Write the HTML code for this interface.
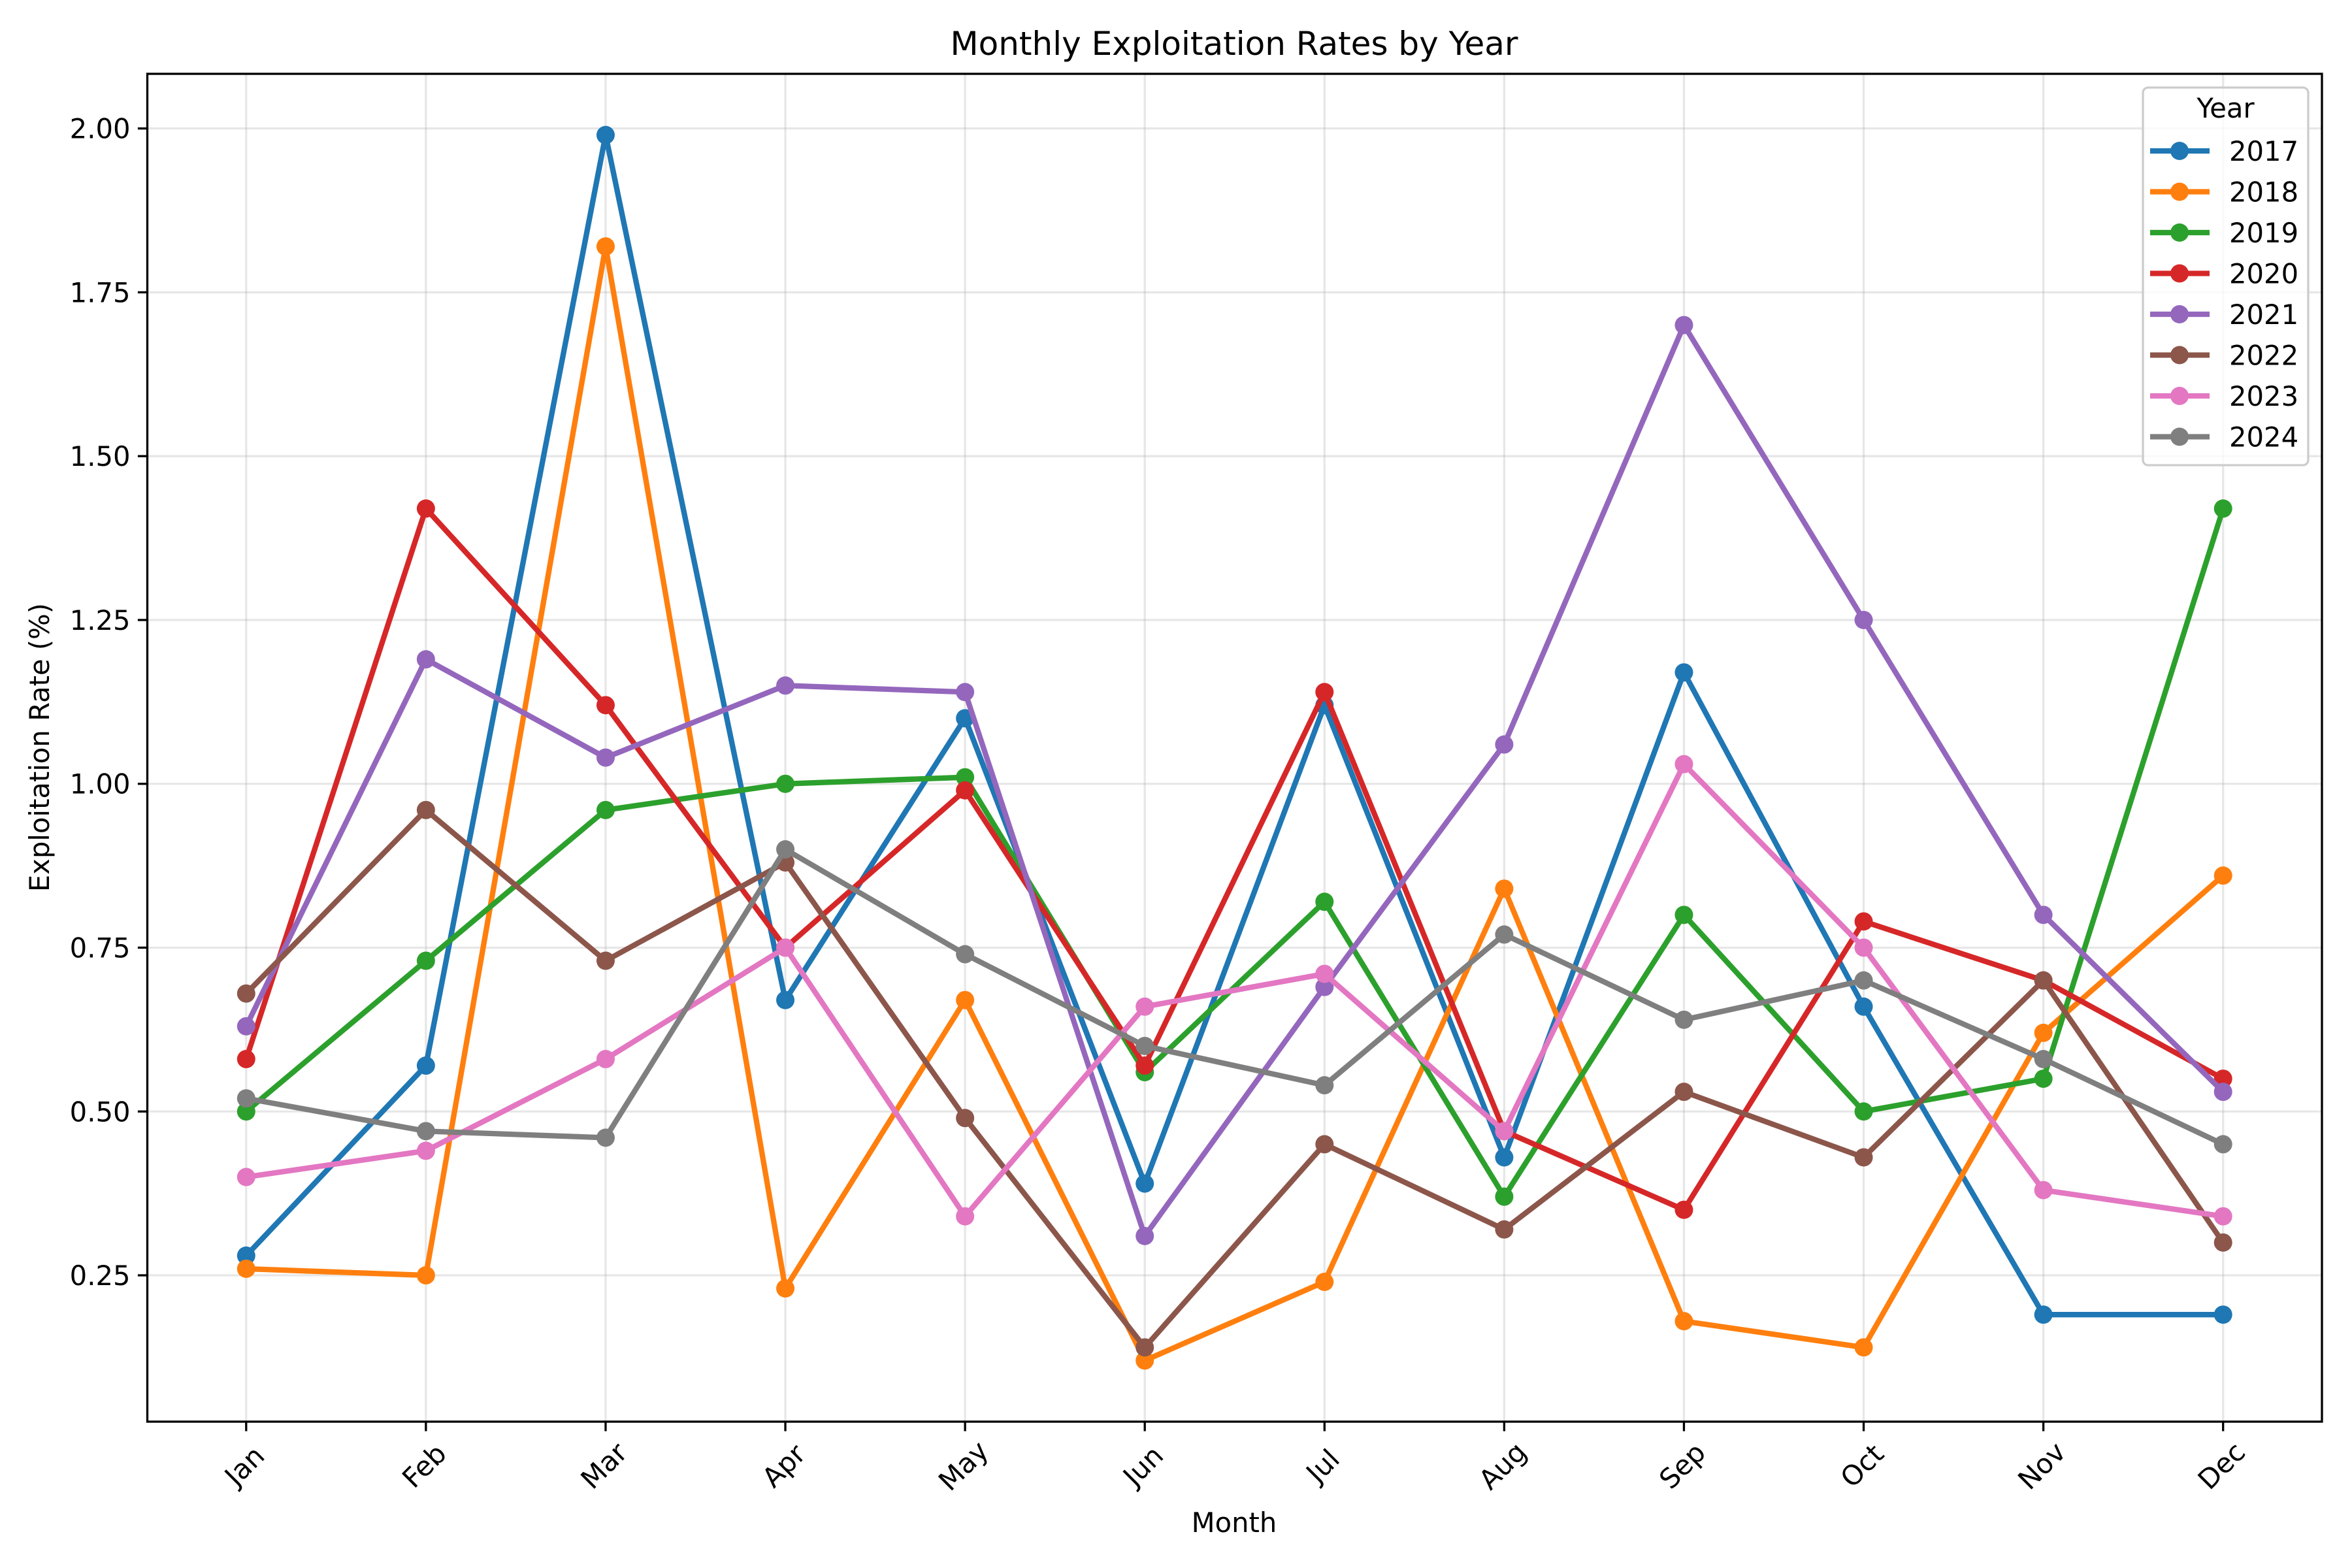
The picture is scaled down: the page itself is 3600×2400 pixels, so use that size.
<!DOCTYPE html>
<html><head><meta charset="utf-8"><style>
html,body{margin:0;padding:0;background:#fff;}
svg{display:block;font-family:"DejaVu Sans","Liberation Sans",sans-serif;}
</style></head><body>
<svg id="chart" width="3600" height="2400" viewBox="0 0 3600 2400" xmlns="http://www.w3.org/2000/svg">
<rect width="3600" height="2400" fill="#fff"/>
<text x="1889" y="84" font-size="50" text-anchor="middle">Monthly Exploitation Rates by Year</text>
<text x="1889" y="2345" font-size="41.7" text-anchor="middle">Month</text>
<text transform="translate(75,1144) rotate(-90)" font-size="41.7" text-anchor="middle">Exploitation Rate (%)</text>
<g id="grid"></g>
<g id="series"></g>
<g id="axes"></g>
<g id="legend"></g>
</svg>
<script>
const months = ["Jan","Feb","Mar","Apr","May","Jun","Jul","Aug","Sep","Oct","Nov","Dec"];
const years = ["2017","2018","2019","2020","2021","2022","2023","2024"];
const s2017 = [0.28,0.57,1.99,0.67,1.10,0.39,1.12,0.43,1.17,0.66,0.19,0.19];
const s2018 = [0.26,0.25,1.82,0.23,0.67,0.12,0.24,0.84,0.18,0.14,0.62,0.86];
const s2019 = [0.50,0.73,0.96,1.00,1.01,0.56,0.82,0.37,0.80,0.50,0.55,1.42];
const s2020 = [0.58,1.42,1.12,0.75,0.99,0.57,1.14,0.47,0.35,0.79,0.70,0.55];
const s2021 = [0.63,1.19,1.04,1.15,1.14,0.31,0.69,1.06,1.70,1.25,0.80,0.53];
const s2022 = [0.68,0.96,0.73,0.88,0.49,0.14,0.45,0.32,0.53,0.43,0.70,0.30];
const s2023 = [0.40,0.44,0.58,0.75,0.34,0.66,0.71,0.47,1.03,0.75,0.38,0.34];
const s2024 = [0.52,0.47,0.46,0.90,0.74,0.60,0.54,0.77,0.64,0.70,0.58,0.45];
const yTicks = [0.25,0.50,0.75,1.00,1.25,1.50,1.75,2.00];
const yTickLabels = ["0.25","0.50","0.75","1.00","1.25","1.50","1.75","2.00"];
const allSeries = [s2017,s2018,s2019,s2020,s2021,s2022,s2023,s2024];
const colors = ["#1f77b4","#ff7f0e","#2ca02c","#d62728","#9467bd","#8c564b","#e377c2","#7f7f7f"];

const L=225.5,R=3554,T=113,B=2176;
const yMin=0.0267,yMax=2.0834;
function xs(i){return L+(i+0.55)/(11+1.1)*(R-L);}
function ys(v){return B-(v-yMin)/(yMax-yMin)*(B-T);}
const NS="http://www.w3.org/2000/svg";
function mk(tag,attrs,parent){const e=document.createElementNS(NS,tag);for(const k in attrs)e.setAttribute(k,attrs[k]);parent.appendChild(e);return e;}
const grid=document.getElementById('grid'),axes=document.getElementById('axes'),ser=document.getElementById('series'),leg=document.getElementById('legend');

months.forEach((m,i)=>{
  const x=xs(i);
  const g=mk('line',{x1:x,x2:x,y1:T,y2:B,stroke:'#b0b0b0','stroke-opacity':0.3,'stroke-width':3.3},grid);
  
  
  const t=mk('line',{x1:x,x2:x,y1:B,y2:B+14.6,stroke:'#000','stroke-width':3.3},axes);
  
  
  const lb=mk('text',{'font-size':41.7,'text-anchor':'middle',transform:`translate(${x},${B+70}) rotate(-45)`,'dominant-baseline':'middle'},axes);
  lb.textContent=m;
  
  
});
yTicks.forEach((v,i)=>{
  const y=ys(v);
  const g=mk('line',{x1:L,x2:R,y1:y,y2:y,stroke:'#b0b0b0','stroke-opacity':0.3,'stroke-width':3.3},grid);
  
  
  const t=mk('line',{x1:L-14.6,x2:L,y1:y,y2:y,stroke:'#000','stroke-width':3.3},axes);
  
  
  const lb=mk('text',{x:L-26,y:y+15,'font-size':41.7,'text-anchor':'end'},axes);
  lb.textContent=yTickLabels[i];
  
  
});
const frame=mk('rect',{x:L,y:T,width:R-L,height:B-T,fill:'none',stroke:'#000','stroke-width':3.3},axes);



allSeries.forEach((s,k)=>{
  const g=mk('g',{},ser);
  
  
  const pts=s.map((v,i)=>xs(i)+','+ys(v)).join(' ');
  const pl=mk('polyline',{points:pts,fill:'none',stroke:colors[k],'stroke-width':8.3,'stroke-linejoin':'round','stroke-linecap':'square'},g);
  
  
  s.forEach((v,i)=>{
    const c=mk('circle',{cx:xs(i),cy:ys(v),r:14,fill:colors[k]},g);
    
    
  });
});

// legend
const lx=3280,ly=134,lw=253,lh=578;
const box=mk('rect',{x:lx,y:ly,width:lw,height:lh,rx:8,fill:'#fff','fill-opacity':0.8,stroke:'#cccccc','stroke-width':3.3},leg);


const lt=mk('text',{x:lx+lw/2,y:180,'font-size':41.7,'text-anchor':'middle'},leg);
lt.textContent='Year';


years.forEach((yr,k)=>{
  const y=231+k*62.5;
  const g=mk('g',{},leg);
  
  
  mk('line',{x1:3291,x2:3382,y1:y,y2:y,stroke:colors[k],'stroke-width':8.3},g);
  mk('circle',{cx:3336,cy:y,r:14,fill:colors[k]},g);
  const t=mk('text',{x:3412,y:y+15,'font-size':41.7},g);
  t.textContent=yr;
});
</script>
</body></html>
